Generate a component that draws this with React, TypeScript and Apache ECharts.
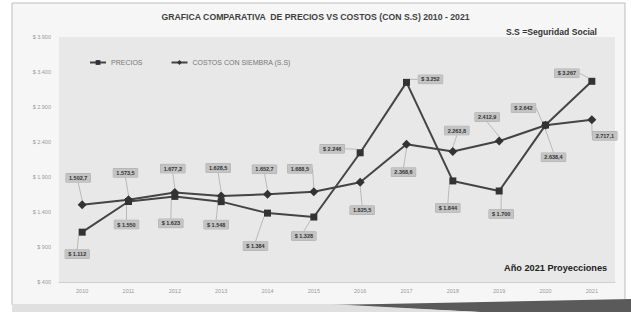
import React, { useEffect, useRef } from "react";
import * as echarts from "echarts";

const years = ["2010", "2011", "2012", "2013", "2014", "2015", "2016", "2017", "2018", "2019", "2020", "2021"];
const precios = [1112, 1550, 1623, 1548, 1384, 1328, 2246, 3252, 1844, 1700, 2642, 3267];
const costos = [1502.7, 1573.5, 1677.2, 1628.5, 1652.7, 1688.5, 1825.5, 2368.6, 2263.8, 2412.9, 2638.4, 2717.1];
const yTicks = [400, 900, 1400, 1900, 2400, 2900, 3400, 3900];

// label offsets (dx, dy) in pixels relative to the point
const preciosOffsets = [[-5, 22], [-2, 23], [-4, 27], [-5, 23], [-12, 33], [-10, 19], [-28, -4], [24, -3], [-5, 27], [2, 23], [-22, -17], [-25, -8]];
const costosOffsets = [[-4, -27], [-3, -27], [-2, -24], [-3, -28], [-3, -25], [-14, -23], [2, 28], [-3, 28], [4, -21], [-12, -24], [8, 32], [13, 16]];

const fmtThousands = (n: number) => {
  const s = Math.round(n).toString();
  return s.replace(/\B(?=(\d{3})+(?!\d))/g, ".");
};
const fmtPrecio = (n: number) => "$ " + fmtThousands(n);
const fmtCosto = (n: number) => {
  const ip = Math.floor(n);
  const dec = Math.round((n - ip) * 10);
  return fmtThousands(ip) + "," + dec;
};

export default function App() {
  const ref = useRef<HTMLDivElement>(null);
  useEffect(() => {
    document.body.style.margin = "0";
    if (!ref.current) return;
    const chart = echarts.init(ref.current, null, { renderer: "svg" });
    const font = "'Liberation Sans Narrow', 'Liberation Sans', sans-serif";
    const labelBase = {
      show: true,
      position: "inside" as const,
      fontSize: 5.5,
      fontFamily: font,
      fontWeight: "bold" as const,
      color: "#333",
      backgroundColor: "#c4c4c4",
      borderColor: "#aaa",
      borderWidth: 0.5,
      padding: [1.5, 3, 1, 3],
    };
    chart.setOption({
      animation: false,
      backgroundColor: "#ffffff",
      graphic: [
        { type: "rect", z: -10, shape: { x: 12, y: 3, width: 613, height: 302 }, style: { fill: "#f6f6f6", stroke: "#bdbdbd", lineWidth: 1 } },
        { type: "polygon", z: 10, shape: { points: [[330, 305], [631, 299], [631, 312], [480, 312]] }, style: { fill: "#5a5a5a" } },
        { type: "polygon", z: 10, shape: { points: [[12, 304], [330, 304], [480, 312], [12, 312]] }, style: { fill: "#e0e0e0" } },
        { type: "text", left: 506, top: 27, style: { text: "S.S =Seguridad Social", fontSize: 8.6, fontFamily: font, fill: "#333", fontWeight: "bold" } },
        { type: "text", left: 504, top: 263, z: 20, style: { text: "Año 2021 Proyecciones", fontSize: 9.2, fontFamily: font, fill: "#222", fontWeight: "bold" } },
      ],
      title: {
        text: "GRAFICA COMPARATIVA  DE PRECIOS VS COSTOS (CON S.S) 2010 - 2021",
        left: "center",
        top: 7,
        textStyle: { fontSize: 8.7, fontWeight: "bold", color: "#3f3f3f", fontFamily: font },
      },
      legend: {
        left: 84,
        top: 54,
        itemGap: 28,
        itemWidth: 16,
        itemHeight: 6,
        textStyle: { fontSize: 7, color: "#777", fontFamily: font },
        data: ["PRECIOS", "COSTOS CON SIEMBRA (S.S)"],
      },
      grid: {
        left: 59,
        right: 16,
        top: 37,
        bottom: 30,
        show: true,
        backgroundColor: "#e8e8e8",
        borderWidth: 0,
      },
      xAxis: {
        type: "category",
        data: years,
        boundaryGap: true,
        axisLine: { show: true, lineStyle: { color: "#d0d0d0" } },
        axisTick: { show: false },
        axisLabel: { fontSize: 5.5, color: "#999", margin: 6, fontFamily: font },
      },
      yAxis: {
        type: "value",
        min: yTicks[0],
        max: yTicks[yTicks.length - 1],
        interval: 500,
        axisLine: { show: false },
        axisTick: { show: false },
        splitLine: { show: false },
        axisLabel: { fontSize: 5.5, color: "#999", margin: 8, fontFamily: font, formatter: (v: number) => fmtPrecio(v) },
      },
      series: [
        {
          name: "PRECIOS",
          type: "line",
          data: precios,
          symbol: "rect",
          symbolSize: 7,
          itemStyle: { color: "#333" },
          lineStyle: { color: "#444", width: 2 },
          label: { ...labelBase, formatter: (p: any) => fmtPrecio(p.value) },
          labelLine: { show: true, lineStyle: { color: "#999", width: 0.6 } },
          labelLayout: (p: any) => ({ dx: preciosOffsets[p.dataIndex][0], dy: preciosOffsets[p.dataIndex][1], hideOverlap: false }),
          z: 3,
        },
        {
          name: "COSTOS CON SIEMBRA (S.S)",
          type: "line",
          data: costos,
          symbol: "diamond",
          symbolSize: 9,
          itemStyle: { color: "#333" },
          lineStyle: { color: "#444", width: 2 },
          label: { ...labelBase, formatter: (p: any) => fmtCosto(p.value) },
          labelLine: { show: true, lineStyle: { color: "#999", width: 0.6 } },
          labelLayout: (p: any) => ({ dx: costosOffsets[p.dataIndex][0], dy: costosOffsets[p.dataIndex][1], hideOverlap: false }),
          z: 4,
        },
      ],
    });
    return () => chart.dispose();
  }, []);
  return <div ref={ref} style={{ width: 631, height: 312 }} />;
}
